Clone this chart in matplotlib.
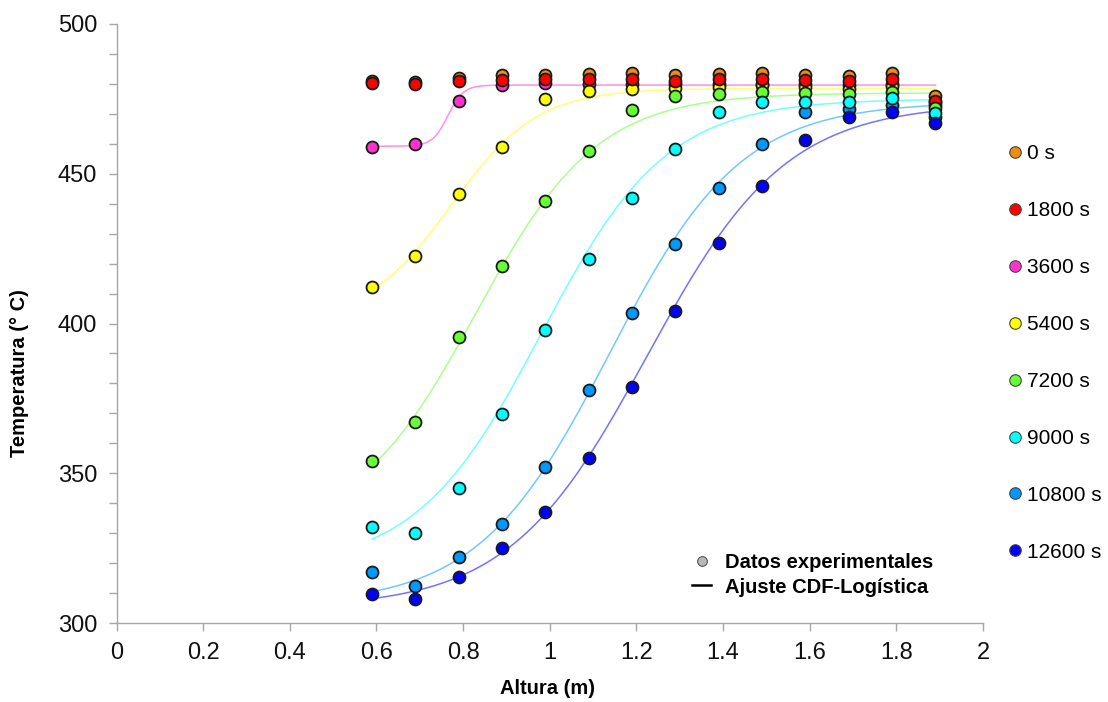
import numpy as np
import matplotlib
matplotlib.use("Agg")
import matplotlib.pyplot as plt
from matplotlib.lines import Line2D
from matplotlib.ticker import MultipleLocator

plt.rcParams['font.family'] = ['Liberation Sans', 'DejaVu Sans']

# Measurement heights (m)
altura = [0.59, 0.69, 0.79, 0.89, 0.99, 1.09, 1.19, 1.29, 1.39, 1.49, 1.59, 1.69, 1.79, 1.89]

# Measured temperatures (°C) at each height, one list per time
T_0 = [481.0, 480.6, 482.0, 483.0, 483.0, 483.2, 483.5, 483.0, 483.2, 483.5, 483.0, 482.6, 483.6, 475.8]
T_1800 = [480.2, 480.1, 481.0, 481.3, 481.6, 481.6, 481.6, 481.1, 481.6, 481.6, 481.3, 481.1, 481.6, 474.3]
T_3600 = [458.8, 459.8, 474.4, 479.6, 480.2, 480.0, 480.0, 479.8, 479.8, 480.0, 479.8, 479.6, 479.8, 474.0]
T_5400 = [412.2, 422.5, 443.1, 458.8, 474.9, 477.7, 478.4, 478.5, 479.1, 479.6, 479.0, 478.4, 479.4, 473.0]
T_7200 = [354.2, 367.1, 395.5, 419.2, 440.9, 457.7, 471.3, 476.0, 476.5, 477.2, 476.9, 476.5, 477.4, 472.1]
T_9000 = [332.2, 330.2, 345.0, 369.8, 397.8, 421.5, 441.8, 458.2, 470.7, 473.8, 473.8, 473.8, 475.3, 470.4]
T_10800 = [316.9, 312.4, 322.1, 333.1, 352.2, 377.8, 403.4, 426.4, 445.3, 459.9, 470.5, 471.6, 472.8, 468.8]
T_12600 = [309.7, 308.0, 315.5, 324.9, 337.2, 355.0, 378.8, 404.3, 427.0, 446.0, 461.3, 469.0, 470.5, 466.8]

series_labels = ["0 s", "1800 s", "3600 s", "5400 s", "7200 s", "9000 s", "10800 s", "12600 s"]
series_temps = [T_0, T_1800, T_3600, T_5400, T_7200, T_9000, T_10800, T_12600]
series_colors = ["#f08c10", "#ff0000", "#ff33cc", "#ffff00", "#66ff33", "#00ffff", "#0099ff", "#0000ff"]
series_zorder = [3, 6, 4, 5, 8, 9, 7, 10]

# Logistic CDF fit parameters: T = Tmin + (Tmax - Tmin) / (1 + exp(-(h - mu) / s))
fit_series = [2, 3, 4, 5, 6, 7]
fit_tmin = [459.2, 400.0, 330.0, 318.0, 306.0, 305.0]
fit_tmax = [479.6, 478.5, 477.0, 475.0, 474.0, 473.5]
fit_mu = [0.765, 0.771, 0.830, 0.980, 1.138, 1.225]
fit_s = [0.018, 0.100, 0.140, 0.145, 0.152, 0.160]

xtick_values = [0, 0.2, 0.4, 0.6, 0.8, 1.0, 1.2, 1.4, 1.6, 1.8, 2.0]
xtick_labels = ["0", "0.2", "0.4", "0.6", "0.8", "1", "1.2", "1.4", "1.6", "1.8", "2"]

W, H = 1108, 702
fig = plt.figure(figsize=(W / 100, H / 100), dpi=100)
ax = fig.add_axes([116.5 / W, 1 - 623 / H, (983 - 116.5) / W, (623 - 24) / H])

# Fitted curves
h_fit = np.linspace(altura[0], altura[-1], 400)
for idx, tmin, tmax, mu, s in zip(fit_series, fit_tmin, fit_tmax, fit_mu, fit_s):
    curve = tmin + (tmax - tmin) / (1 + np.exp(-(h_fit - mu) / s))
    ax.plot(h_fit, curve, color=series_colors[idx], alpha=0.55, lw=1.1, zorder=1)

# Experimental points
for temps, col, z in zip(series_temps, series_colors, series_zorder):
    ax.plot(altura, temps, linestyle="none", marker="o", ms=8.6,
            mfc=col, mec="#1a1a1a", mew=1.3, zorder=z)

ax.set_xlim(0, 2)
ax.set_ylim(300, 500)
ax.set_xticks(xtick_values)
ax.set_xticklabels(xtick_labels)
ax.yaxis.set_major_locator(MultipleLocator(50))
ax.yaxis.set_minor_locator(MultipleLocator(10))

for side in ("top", "right"):
    ax.spines[side].set_visible(False)
for side in ("left", "bottom"):
    ax.spines[side].set_color("#a6a6a6")
    ax.spines[side].set_linewidth(1.0)

ax.tick_params(which="both", direction="out", length=6, width=1.0, color="#a6a6a6")
ax.tick_params(axis="both", labelsize=17, labelcolor="#111111", pad=8)

fig.text(548 / W, 1 - 688 / H, "Altura (m)", ha="center", va="center",
         fontsize=14.5, fontweight="bold")
fig.text(20 / W, 1 - 373 / H, "Temperatura (° C)", ha="center", va="center",
         rotation=90, fontsize=14.5, fontweight="bold")

# Series legend on the right
series_handles = [Line2D([], [], linestyle="none", marker="o", ms=8.3, mfc=c,
                         mec="#444444", mew=0.8) for c in series_colors]
leg1 = fig.legend(series_handles, series_labels, loc="center left",
                  bbox_to_anchor=(1008.5 / W, 1 - 353 / H), frameon=False,
                  fontsize=15, handlelength=0.6, handletextpad=0.3,
                  labelspacing=1.82, borderpad=0, borderaxespad=0)

# Marker / line meaning legend
kind_handles = [Line2D([], [], linestyle="none", marker="o", ms=7, mfc="#b8b8b8",
                       mec="#555555", mew=0.8),
                Line2D([], [], color="black", lw=1.8)]
kind_labels = ["Datos experimentales", "Ajuste CDF-Logística"]
leg2 = fig.legend(kind_handles, kind_labels, loc="center left",
                  bbox_to_anchor=(692 / W, 1 - 575 / H), frameon=False,
                  prop={"weight": "bold", "size": 14.5}, handlelength=0.95,
                  handletextpad=0.7, labelspacing=0.25, borderpad=0, borderaxespad=0)

fig.savefig("out.png", dpi=100)
